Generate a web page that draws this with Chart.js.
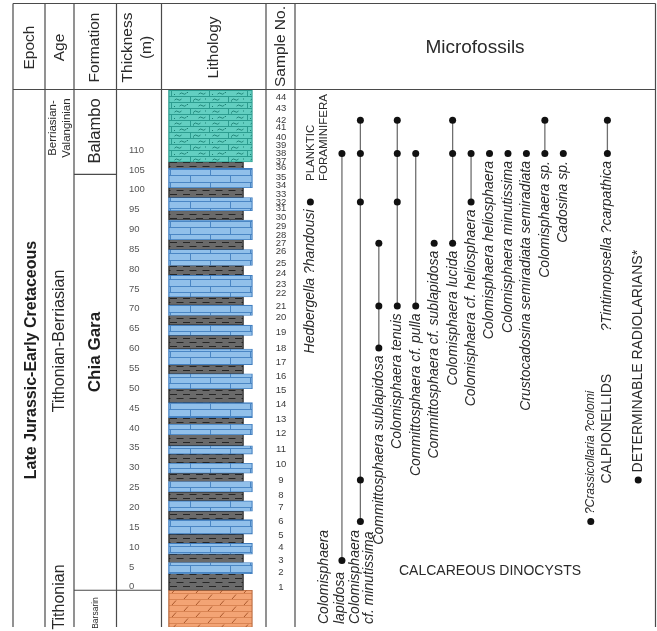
<!DOCTYPE html>
<html>
<head>
<meta charset="utf-8">
<script src="https://cdn.jsdelivr.net/npm/chart.js@4.4.1/dist/chart.umd.min.js"></script>
<style>
  html, body { margin: 0; padding: 0; background: #ffffff; }
  canvas { display: block; }
</style>
</head>
<body>
<canvas id="section" width="657" height="631"></canvas>
<script>
// ---------------- Section data ----------------

// Thickness scale labels (m)
const thicknessTicks = [0, 5, 10, 15, 20, 25, 30, 35, 40, 45, 50, 55,
  60, 65, 70, 75, 80, 85, 90, 95, 100, 105, 110];

// Height of samples 1–44 above the base of the Chia Gara Formation (m)
const sampleHeights = [0.8, 4.5, 7.5, 10.8, 13.9, 17.3, 20.8, 23.8, 27.8, 31.6,
  35.4, 39.6, 43.1, 46.7, 50.3, 53.9, 57.5, 61.0, 65.0, 68.8,
  71.6, 74.8, 77.0, 79.9, 82.4, 85.4, 87.4, 89.5, 91.6, 94.0,
  96.1, 97.8, 99.8, 102.1, 104.1, 106.4, 108.1, 110.0, 112.1, 114.1,
  116.5, 118.4, 121.3, 124.1];

// Beds as [base, top] in metres
const marlyLimestoneBeds = [[107.9, 126.2]];
const limestoneBeds = [[101.4, 106.25], [95.6, 98.9], [88.3, 93.25], [81.8, 85.8],
  [73.9, 79.3], [69.2, 71.8], [64.2, 66.8], [56.8, 60.75], [50.75, 54.5],
  [43.5, 47.25], [39.2, 41.8], [34.3, 36.4], [29.5, 32], [24.75, 27.4],
  [19.9, 22.5], [14.1, 17.8], [9.1, 11.8], [4.2, 7]];
const shaleBeds = [[106.25, 107.9], [98.9, 101.4], [93.25, 95.6], [85.8, 88.3],
  [79.3, 81.8], [71.8, 73.9], [66.8, 69.2], [60.75, 64.2], [54.5, 56.8],
  [47.25, 50.75], [41.8, 43.5], [36.4, 39.2], [32, 34.3], [27.4, 29.5],
  [22.5, 24.75], [17.8, 19.9], [11.8, 14.1], [7, 9.1], [0, 4.2]];
const dolomiteBeds = [[-9.3, 0]];

// Formation contacts (m): Balambo / Chia Gara, Chia Gara / Barsarin
const formationContacts = [104.75, 0];

// Microfossil taxa and the samples they occur in
const taxonNames = [
  'Hedbergella ?handousi',
  'Colomisphaera\nlapidosa',
  'Colomisphaera\ncf. minutissima',
  'Committosphaera sublapidosa',
  'Colomisphaera tenuis',
  'Committosphaera cf. pulla',
  'Committosphaera cf. sublapidosa',
  'Colomisphaera lucida',
  'Colomisphaera cf. heliosphaera',
  'Colomisphaera heliosphaera',
  'Colomisphaera minutissima',
  'Crustocadosina semiradiata semiradiata',
  'Colomisphaera sp.',
  'Cadosina sp.',
  '?Crassicollaria ?colomi',
  '?Tintinnopsella ?carpathica',
  'DETERMINABLE RADIOLARIANS*'
];
const taxonOccurrences = [
  [32], [38, 3], [42, 38, 32, 9, 6], [27, 21, 18], [42, 38, 32, 21], [38, 21],
  [27], [42, 38, 27], [38, 32], [38], [38], [38], [42, 38], [38],
  [6], [42, 38], [9]
];

// ---------------- Layout ----------------

const W = 657, H = 631;
const colEdges = [13, 45, 74, 116.5, 161.5, 266, 295, 655.5];
const frameTop = 3.5, headerBottom = 89.5;
const baseLinePx = 594;          // pixel row of 0 m
const pxPerMetre = 4;
const lithoLeft = 167;
const FONT = '"Liberation Sans", Arial, sans-serif';

// Column slot on the taxon axis, and how its name is set
const taxonLayout = [
  { slot: -1.71, mode: 'under' },
  { slot: 0, mode: 'foot', offsets: [-18, -2] },
  { slot: 1, mode: 'foot', offsets: [-5.5, 9] },
  { slot: 2, mode: 'under' },
  { slot: 3, mode: 'under' },
  { slot: 4, mode: 'under' },
  { slot: 5, mode: 'under' },
  { slot: 6, mode: 'under' },
  { slot: 7, mode: 'under' },
  { slot: 8, mode: 'under' },
  { slot: 9, mode: 'under' },
  { slot: 10, mode: 'under' },
  { slot: 11, mode: 'under' },
  { slot: 12, mode: 'under' },
  { slot: 13.49, mode: 'over', size: 12 },
  { slot: 14.39, mode: 'under' },
  { slot: 16.06, mode: 'over', upright: true }
];
const slotOrigin = 342.1, slotStep = 18.675;

// ---------------- Lithology fills ----------------

function makePattern(w, h, draw) {
  const c = document.createElement('canvas');
  c.width = w; c.height = h;
  draw(c.getContext('2d'), w, h);
  return document.getElementById('section').getContext('2d').createPattern(c, 'repeat');
}

const marlyFill = makePattern(38, 12, (g, w, h) => {
  g.fillStyle = '#63cfc1'; g.fillRect(0, 0, w, h);
  g.strokeStyle = '#2c9c8f'; g.lineWidth = 1;
  g.beginPath();
  g.moveTo(0, 0.5); g.lineTo(w, 0.5);
  g.moveTo(0, 6.5); g.lineTo(w, 6.5);
  g.moveTo(0.5, 0); g.lineTo(0.5, 6.5);
  g.moveTo(19.5, 6.5); g.lineTo(19.5, 12);
  g.stroke();
  g.strokeStyle = '#1d8074'; g.lineWidth = 0.9;
  g.beginPath();
  [[7, 3.6], [26, 3.6], [12, 9.6], [31, 9.6]].forEach(([cx, cy]) => {
    g.moveTo(cx - 3.5, cy + 0.6);
    g.quadraticCurveTo(cx - 1.7, cy - 1.6, cx, cy);
    g.quadraticCurveTo(cx + 1.7, cy + 1.6, cx + 3.5, cy - 0.6);
  });
  g.stroke();
  g.fillStyle = '#1d8074';
  [[3, 4.5], [15, 2.5], [22, 10], [35, 8]].forEach(([px, py]) => g.fillRect(px, py, 1, 1));
});

const limestoneFill = makePattern(40, 13, (g, w, h) => {
  g.fillStyle = '#91c0ea'; g.fillRect(0, 0, w, h);
  g.strokeStyle = '#4a86c4'; g.lineWidth = 1;
  g.beginPath();
  g.moveTo(0, 0.5); g.lineTo(w, 0.5);
  g.moveTo(0, 6.5); g.lineTo(w, 6.5);
  g.moveTo(10.5, 0); g.lineTo(10.5, 6.5);
  g.moveTo(30.5, 6.5); g.lineTo(30.5, 13);
  g.stroke();
});

const shaleFill = makePattern(13, 8, (g, w, h) => {
  g.fillStyle = '#6a6a6a'; g.fillRect(0, 0, w, h);
  g.strokeStyle = '#262626'; g.lineWidth = 1;
  g.beginPath();
  g.moveTo(1, 2.5); g.lineTo(8, 2.5);
  g.moveTo(7.5, 6.5); g.lineTo(13, 6.5);
  g.moveTo(0, 6.5); g.lineTo(1.5, 6.5);
  g.stroke();
});

const dolomiteFill = makePattern(24, 12, (g, w, h) => {
  g.fillStyle = '#f3a475'; g.fillRect(0, 0, w, h);
  g.strokeStyle = '#d98453'; g.lineWidth = 1;
  g.beginPath();
  g.moveTo(0, 5.5); g.lineTo(w, 5.5);
  g.moveTo(0, 11.5); g.lineTo(w, 11.5);
  g.stroke();
  g.strokeStyle = '#a9582d';
  g.beginPath();
  g.moveTo(4, 5); g.lineTo(8, 0.5);
  g.moveTo(16, 11); g.lineTo(20, 6.5);
  g.stroke();
});

const bedSets = [
  { label: 'Marly limestone', beds: marlyLimestoneBeds, fill: marlyFill, edge: '#2c9c8f', width: 84 },
  { label: 'Limestone', beds: limestoneBeds, fill: limestoneFill, edge: '#3f7dbf', width: 84 },
  { label: 'Shale', beds: shaleBeds, fill: shaleFill, edge: '#1e1e1e', width: 75 },
  { label: 'Dolomite', beds: dolomiteBeds, fill: dolomiteFill, edge: '#b8683c', width: 84 }
];

// ---------------- Datasets ----------------

const datasets = [];

bedSets.forEach(s => {
  datasets.push({
    type: 'bar',
    label: s.label,
    xAxisID: 'xLitho',
    yAxisID: 'y',
    order: 2,
    grouped: false,
    data: s.beds.map(b => ({ x: lithoLeft + s.width / 2, y: b })),
    backgroundColor: s.fill,
    borderColor: s.edge,
    borderWidth: { left: 1.3, right: 1.2, top: 0.8, bottom: 0.8 },
    borderSkipped: false,
    barThickness: s.width
  });
});

taxonNames.forEach((name, i) => {
  datasets.push({
    type: 'line',
    label: name.replace('\n', ' '),
    xAxisID: 'xTaxa',
    yAxisID: 'y',
    order: 1,
    data: taxonOccurrences[i].map(n => ({ x: taxonLayout[i].slot, y: sampleHeights[n - 1] })),
    showLine: true,
    borderColor: '#6f6f6f',
    borderWidth: 1.3,
    pointRadius: 3.5,
    pointBackgroundColor: '#111111',
    pointBorderWidth: 0,
    fill: false,
    tension: 0
  });
});

const scales = {
  xLitho: { type: 'linear', min: 0, max: W, display: false, offset: false },
  xTaxa: {
    type: 'linear', display: false, offset: false,
    min: -slotOrigin / slotStep,
    max: (W - slotOrigin) / slotStep
  },
  y: {
    type: 'linear',
    position: 'left',
    min: (baseLinePx - H) / pxPerMetre,
    max: (baseLinePx - headerBottom) / pxPerMetre,
    grid: { display: false },
    border: { display: false },
    afterBuildTicks(scale) { scale.ticks = thicknessTicks.map(v => ({ value: v })); },
    afterFit(scale) {
      scale.width = 0;
      scale.paddingTop = 0; scale.paddingBottom = 0;
      scale.paddingLeft = 0; scale.paddingRight = 0;
    },
    ticks: {
      mirror: true,
      padding: 125,
      labelOffset: -3.5,
      color: '#555555',
      font: { family: FONT, size: 9.5 },
      callback: v => String(v)
    }
  }
};

// ---------------- Table, headings and labels ----------------

function vtext(ctx, str, x, y, align, font, color) {
  ctx.save();
  ctx.translate(x, y);
  ctx.rotate(-Math.PI / 2);
  ctx.font = font;
  ctx.fillStyle = color || '#2a2a2a';
  ctx.textAlign = align;
  ctx.textBaseline = 'middle';
  ctx.fillText(str, 0, 0);
  ctx.restore();
}

const sectionDecor = {
  id: 'sectionDecor',
  afterDraw(chart) {
    const ctx = chart.ctx;
    const ys = chart.scales.y;
    const xt = chart.scales.xTaxa;
    const bottom = chart.chartArea.bottom;
    ctx.save();

    // table rules
    ctx.strokeStyle = '#4a4a4a';
    ctx.lineWidth = 1.2;
    ctx.beginPath();
    colEdges.forEach(x => { ctx.moveTo(x, frameTop); ctx.lineTo(x, bottom); });
    ctx.moveTo(colEdges[0], frameTop); ctx.lineTo(colEdges[7], frameTop);
    ctx.moveTo(colEdges[0], headerBottom); ctx.lineTo(colEdges[7], headerBottom);
    const yTop = ys.getPixelForValue(formationContacts[0]);
    ctx.moveTo(colEdges[2], yTop); ctx.lineTo(colEdges[3], yTop);
    const yBase = ys.getPixelForValue(formationContacts[1]);
    ctx.moveTo(colEdges[2], yBase); ctx.lineTo(colEdges[4], yBase);
    ctx.stroke();

    // column headings
    const hFont = '15.5px ' + FONT;
    vtext(ctx, 'Epoch', 29.5, 47.5, 'center', hFont);
    vtext(ctx, 'Age', 60, 47.5, 'center', hFont);
    vtext(ctx, 'Formation', 95, 47.5, 'center', hFont);
    vtext(ctx, 'Thickness', 128, 47.5, 'center', hFont);
    vtext(ctx, '(m)', 147, 47.5, 'center', hFont);
    vtext(ctx, 'Lithology', 214, 47.5, 'center', hFont);
    vtext(ctx, 'Sample No.', 281, 46.5, 'center', hFont);
    ctx.font = '19px ' + FONT;
    ctx.fillStyle = '#2a2a2a';
    ctx.textAlign = 'center';
    ctx.textBaseline = 'middle';
    ctx.fillText('Microfossils', 475, 47.5);

    // stratigraphic units
    vtext(ctx, 'Late Jurassic-Early Cretaceous', 32, 360, 'center', 'bold 16px ' + FONT, '#1e1e1e');
    vtext(ctx, 'Berriasian-', 53, 128, 'center', '11.5px ' + FONT);
    vtext(ctx, 'Valanginian', 66.5, 128, 'center', '11.5px ' + FONT);
    vtext(ctx, 'Tithonian-Berriasian', 60, 341, 'center', '16px ' + FONT);
    vtext(ctx, 'Tithonian', 60, 597, 'center', '16px ' + FONT);
    vtext(ctx, 'Balambo', 95.5, 131, 'center', '16.5px ' + FONT);
    vtext(ctx, 'Chia Gara', 95.5, 352, 'center', 'bold 17px ' + FONT, '#1e1e1e');
    vtext(ctx, 'Barsarin', 95.5, 613, 'center', '8.5px ' + FONT);

    // sample numbers
    ctx.font = '9.5px ' + FONT;
    ctx.fillStyle = '#3a3a3a';
    ctx.textAlign = 'center';
    ctx.textBaseline = 'middle';
    sampleHeights.forEach((h, i) => {
      ctx.fillText(String(i + 1), 281, ys.getPixelForValue(h));
    });

    // taxon names
    const caps = '14px ' + FONT;
    taxonNames.forEach((name, i) => {
      const L = taxonLayout[i];
      const px = xt.getPixelForValue(L.slot);
      const ptsY = taxonOccurrences[i].map(n => ys.getPixelForValue(sampleHeights[n - 1]));
      const low = Math.max(...ptsY);
      const font = L.upright ? caps : 'italic ' + (L.size || 14) + 'px ' + FONT;
      if (L.mode === 'under') {
        vtext(ctx, name, px, low + 7.5, 'right', font);
      } else if (L.mode === 'over') {
        vtext(ctx, name, px, low - 7.5, 'left', font);
      } else {
        name.split('\n').forEach((ln, k) => vtext(ctx, ln, px + L.offsets[k], bottom - 3, 'left', font));
      }
    });

    // fossil group headings
    const hedX = xt.getPixelForValue(taxonLayout[0].slot);
    const hedY = ys.getPixelForValue(sampleHeights[taxonOccurrences[0][0] - 1]);
    vtext(ctx, 'PLANKTIC', hedX, hedY - 21, 'left', '11.5px ' + FONT);
    vtext(ctx, 'FORAMINIFERA', hedX + 13, hedY - 21, 'left', '11.5px ' + FONT);
    ctx.font = caps;
    ctx.fillStyle = '#2a2a2a';
    ctx.textAlign = 'left';
    ctx.textBaseline = 'middle';
    ctx.fillText('CALCAREOUS DINOCYSTS', 399, 571);
    const calX = xt.getPixelForValue(taxonLayout[15].slot);
    vtext(ctx, 'CALPIONELLIDS', calX, 483.5, 'left', caps);

    ctx.restore();
  }
};

new Chart(document.getElementById('section'), {
  type: 'bar',
  data: { datasets },
  options: {
    responsive: false,
    animation: false,
    events: [],
    devicePixelRatio: 1,
    layout: { padding: { top: headerBottom, left: 0, right: 0, bottom: 0 } },
    plugins: { legend: { display: false }, tooltip: { enabled: false } },
    scales
  },
  plugins: [sectionDecor]
});
</script>
</body>
</html>
